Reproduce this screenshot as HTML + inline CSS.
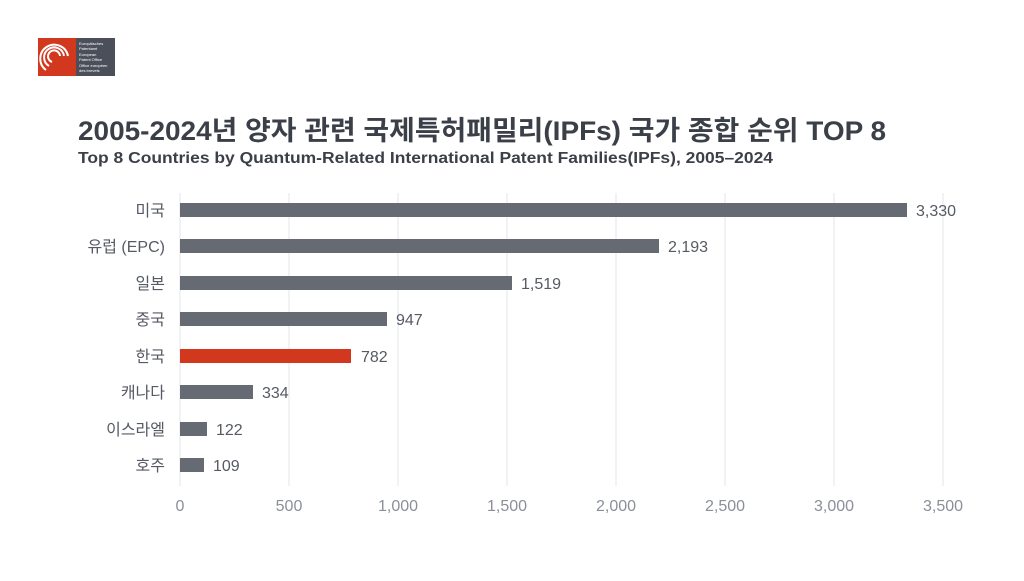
<!DOCTYPE html>
<html><head><meta charset="utf-8"><style>
body{margin:0;background:#fff;width:1024px;height:576px;overflow:hidden;font-family:"Liberation Sans","Noto Sans CJK KR",sans-serif;}
</style></head><body>
<svg width="1024" height="576" xmlns="http://www.w3.org/2000/svg" font-family="Liberation Sans, Noto Sans CJK KR, sans-serif">
<rect x="38" y="38" width="38" height="38" fill="#d2381e"/>
<rect x="76" y="38" width="39" height="38" fill="#4a4f5a"/>
<g fill="none" stroke="#fff" stroke-width="2">
<path d="M52 62a6 6 0 1 1 8-6"/><path d="M49 66a10 10 0 1 1 15-10"/><path d="M46 70a14 14 0 1 1 22-14"/>
</g>
<g fill="#fff" font-size="4"><text x="79" y="45">Europäisches</text><text x="79" y="50">Patentamt</text><text x="79" y="56">European</text><text x="79" y="61">Patent Office</text><text x="79" y="67">Office européen</text><text x="79" y="72">des brevets</text></g>
<text x="78" y="140" font-size="27" font-weight="bold" fill="#3b3f48" textLength="808" lengthAdjust="spacingAndGlyphs">2005-2024년 양자 관련 국제특허패밀리(IPFs) 국가 종합 순위 TOP 8</text>
<text x="78" y="163" font-size="16" font-weight="bold" fill="#3b3f48" textLength="695" lengthAdjust="spacingAndGlyphs">Top 8 Countries by Quantum-Related International Patent Families(IPFs), 2005–2024</text>
<g stroke="#e3e4e8" stroke-width="1">
<line x1="180" y1="193" x2="180" y2="486"/><line x1="289" y1="193" x2="289" y2="486"/><line x1="398" y1="193" x2="398" y2="486"/><line x1="507" y1="193" x2="507" y2="486"/><line x1="616" y1="193" x2="616" y2="486"/><line x1="725" y1="193" x2="725" y2="486"/><line x1="834" y1="193" x2="834" y2="486"/><line x1="943" y1="193" x2="943" y2="486"/>
</g>
<g fill="#656a73">
<rect x="180" y="203" width="727" height="14"/>
<rect x="180" y="239" width="479" height="14"/>
<rect x="180" y="276" width="332" height="14"/>
<rect x="180" y="312" width="207" height="14"/>
<rect x="180" y="349" width="171" height="14" fill="#d2381e"/>
<rect x="180" y="385" width="73" height="14"/>
<rect x="180" y="422" width="27" height="14"/>
<rect x="180" y="458" width="24" height="14"/>
</g>
<g font-size="16" fill="#555a63">
<text x="916" y="216">3,330</text><text x="668" y="252">2,193</text><text x="521" y="289">1,519</text><text x="396" y="325">947</text><text x="361" y="362">782</text><text x="262" y="398">334</text><text x="216" y="435">122</text><text x="213" y="471">109</text>
</g>
<g font-size="16" fill="#555a63" text-anchor="end">
<text x="165" y="216">미국</text><text x="165" y="252">유럽 (EPC)</text><text x="165" y="289">일본</text><text x="165" y="325">중국</text><text x="165" y="362">한국</text><text x="165" y="398">캐나다</text><text x="165" y="435">이스라엘</text><text x="165" y="471">호주</text>
</g>
<g font-size="16" fill="#8a8f98" text-anchor="middle">
<text x="180" y="511">0</text><text x="289" y="511">500</text><text x="398" y="511">1,000</text><text x="507" y="511">1,500</text><text x="616" y="511">2,000</text><text x="725" y="511">2,500</text><text x="834" y="511">3,000</text><text x="943" y="511">3,500</text>
</g>
</svg>
</body></html>
